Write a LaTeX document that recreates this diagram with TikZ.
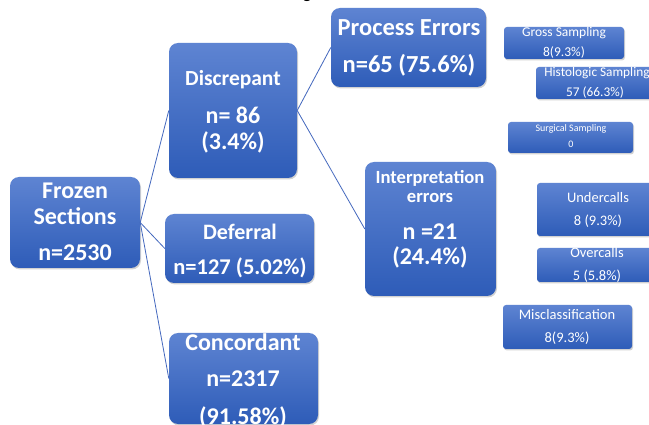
\documentclass[tikz,border=0pt]{standalone}
\usepackage{fontspec}
\setmainfont{Carlito}
\usetikzlibrary{shadows}
\definecolor{bTop}{RGB}{94,132,210}
\definecolor{bBot}{RGB}{46,92,184}
\definecolor{lnC}{RGB}{68,104,190}
\tikzset{
  bx/.style={rectangle, rounded corners=9pt, top color=bTop, bottom color=bBot, draw=none, inner sep=0pt,
    drop shadow={opacity=0.35, shadow xshift=1pt, shadow yshift=-1.5pt}},
  sbx/.style={bx, rounded corners=3pt},
  lbl/.style={text=white, inner sep=0pt, anchor=center},
  conn/.style={draw=lnC, line width=0.8pt},
}
\newcommand{\fs}[1]{\fontsize{#1}{#1}\selectfont}
\begin{document}
\begin{tikzpicture}[x=1pt,y=-1pt]
\useasboundingbox (0,0) rectangle (649,425);
\fill[white] (0,0) rectangle (649,425);

% large boxes
\node[bx, minimum width=130pt, minimum height=91pt] (fz) at (75,222.5) {};
\node[bx, minimum width=128pt, minimum height=135pt] (dis) at (233,110.5) {};
\node[bx, minimum width=149pt, minimum height=69pt] (def) at (239.5,248.5) {};
\node[bx, minimum width=149pt, minimum height=91pt] (con) at (243.5,378.5) {};
\node[bx, minimum width=155pt, minimum height=79pt] (pe) at (408.5,47.5) {};
\node[bx, minimum width=131pt, minimum height=134pt] (ie) at (430.5,229) {};

% small boxes
\node[sbx, minimum width=120pt, minimum height=32pt] (gs) at (564,43) {};
\node[sbx, minimum width=118pt, minimum height=32pt] (hs) at (595,83) {};
\node[sbx, minimum width=125pt, minimum height=31pt] (ss) at (570.5,137.5) {};
\node[sbx, minimum width=122pt, minimum height=53pt] (uc) at (598,209.5) {};
\node[sbx, minimum width=120pt, minimum height=34pt] (oc) at (597,265) {};
\node[sbx, minimum width=129pt, minimum height=44pt] (mc) at (567.5,327) {};

% connectors
\draw[conn] (fz.east) -- (dis.west);
\draw[conn] (fz.east) -- (def.west);
\draw[conn] (fz.east) -- (con.west);
\draw[conn] (dis.east) -- (pe.west);
\draw[conn] (dis.east) -- (ie.west);

% texts large boxes
\begin{scope}[every node/.style={lbl, font=\bfseries\fs{24}}]
\node (fz1) at (75,191) {Frozen};
\node (fz2) at (75,216) {Sections};
\node (fz3) at (75,253) {n=2530};
\node[font=\bfseries\fs{21.5}] (dis1) at (233,80) {Discrepant};
\node (dis2) at (233,115) {n= 86};
\node (dis3) at (233,142) {(3.4\%)};
\node[font=\bfseries\fs{22}] (def1) at (240,232) {Deferral};
\node[font=\bfseries\fs{22.5}] (def2) at (240,268) {n=127 (5.02\%)};
\node (con1) at (243,342) {Concordant};
\node (con2) at (243,379) {n=2317};
\node (con3) at (243,417) {(91.58\%)};
\node[font=\bfseries\fs{24.5}] (pe1) at (409,28) {Process Errors};
\node[font=\bfseries\fs{24.5}] (pe2) at (409,65) {n=65 (75.6\%)};
\node[font=\bfseries\fs{18.6}] (ie1) at (430,178) {Interpretation};
\node[font=\bfseries\fs{18.6}] (ie2) at (430,198) {errors};
\node (ie3) at (430,232) {n =21};
\node (ie4) at (430,257) {(24.4\%)};
\end{scope}

% texts small boxes
\begin{scope}[every node/.style={lbl, font=\fs{13.5}}]
\node (gs1) at (564,33) {Gross Sampling};
\node (gs2) at (564,53) {8(9.3\%)};
\node[font=\fs{13.3}] (hs1) at (597,73) {Histologic Sampling};
\node[font=\fs{13.3}] (hs2) at (595,93) {57 (66.3\%)};
\node[font=\fs{10}] (ss1) at (571,129) {Surgical Sampling};
\node[font=\fs{10}] (ss2) at (571,144) {0};
\node[font=\fs{14.5}] (uc1) at (598,198) {Undercalls};
\node[font=\fs{14.5}] (uc2) at (598,221) {8 (9.3\%)};
\node[font=\fs{14.5}] (oc1) at (597,253) {Overcalls};
\node[font=\fs{14.5}] (oc2) at (597,276) {5 (5.8\%)};
\node[font=\fs{14.5}] (mc1) at (567,315) {Misclassification};
\node[font=\fs{14.5}] (mc2) at (567,338) {8(9.3\%)};
\end{scope}

% cut-off title fragment at the top edge
\node[anchor=base, inner sep=0pt, font=\fs{18}, text=black] (ttl) at (307,-1) {g};
\end{tikzpicture}
\end{document}
